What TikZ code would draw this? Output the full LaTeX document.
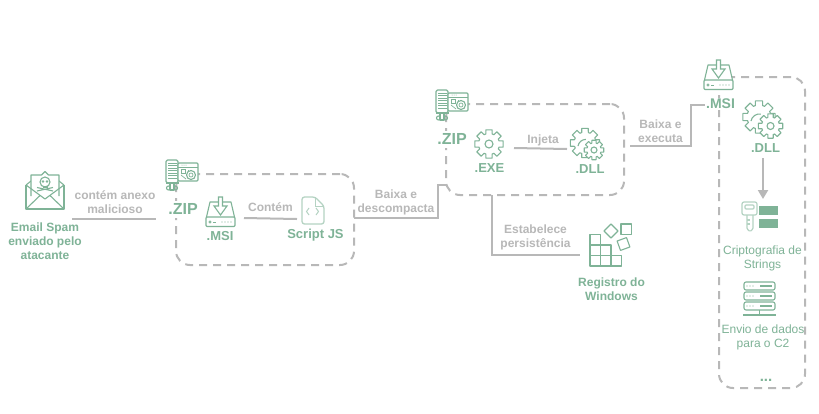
\documentclass[tikz,border=0pt]{standalone}
\usepackage{fontspec}
\setmainfont{Liberation Sans}
\usetikzlibrary{arrows.meta}
\definecolor{gr}{HTML}{7FB397}
\definecolor{grl}{HTML}{B5D3C3}
\definecolor{gy}{HTML}{B8B8B8}
\newcommand{\gearpath}[5]{% cx cy router rinner teeth
  \draw[ico,fill=white] ({#1+#3*cos(0-100/#5)},{#2+#3*sin(0-100/#5)})
  \foreach \k in {1,...,#5}{
    -- ({#1+#3*cos(\k*360/#5-360/#5+100/#5)},{#2+#3*sin(\k*360/#5-360/#5+100/#5)})
    -- ({#1+#4*cos(\k*360/#5-360/#5+140/#5)},{#2+#4*sin(\k*360/#5-360/#5+140/#5)})
    -- ({#1+#4*cos(\k*360/#5-140/#5)},{#2+#4*sin(\k*360/#5-140/#5)})
    -- ({#1+#3*cos(\k*360/#5-100/#5)},{#2+#3*sin(\k*360/#5-100/#5)})
  } -- cycle;
}
\tikzset{
  x=1pt,y=-1pt,
  ico/.style={draw=gr,line width=1.1pt,line join=round},
  icot/.style={draw=gr,line width=.7pt},
  dashbox/.style={draw=gy,line width=2pt,rounded corners=14pt,dash pattern=on 8pt off 6pt,inner sep=0pt},
  conn/.style={draw=gy,line width=2pt},
  glab/.style={text=gy,font=\fontsize{12}{14}\selectfont\bfseries,align=center,inner sep=0pt},
  tgb/.style={text=gr,font=\fontsize{12}{14}\selectfont\bfseries,align=center,inner sep=0pt},
  tgm/.style={text=gr,font=\fontsize{13}{15}\selectfont\bfseries,align=center,inner sep=0pt},
  tgr/.style={text=gr,font=\fontsize{12}{14}\selectfont,align=center,inner sep=0pt},
  tzip/.style={text=gr,font=\fontsize{16}{18}\selectfont\bfseries,inner xsep=1pt,inner ysep=3pt,fill=white},
  zipicon/.pic={
    \draw[ico,fill=white,rounded corners=1.5pt] (0,1) rectangle (12,24);
    \draw[ico,fill=white,rounded corners=1pt] (12,4) rectangle (32,22);
    \foreach \yy in {4,6.5,...,21}{\draw[icot] (2,\yy) -- (11,\yy);}
    \draw[ico] (0,24) -- (13,24);
    \draw[icot] (12,8) -- (32,8);
    \foreach \xx in {16,18,20}{\fill[gr] (\xx,6) circle (.5);}
    \draw[icot] (15,10.5) rectangle (19,14.5);
    \draw[icot] (15,16) -- (20,20);
    \draw[icot] (22,11) -- (23,11);
    \draw[ico] (25,16) circle (4.5);
    \draw[icot] (25,16) circle (2);
    \draw[ico,fill=white] (4,24) rectangle (8,31);
    \draw[ico] (2.5,29) circle (2);
    \draw[ico] (9.5,29) circle (2);
  },
  msiicon/.pic={
    \draw[ico,fill=white] (0.5,20) -- (4,5) -- (25,5) -- (28.5,20);
    \draw[ico,fill=white,rounded corners=1pt] (0,20) rectangle (29,29.5);
    \draw[ico,fill=white,line join=miter] (12.5,0) -- (16.5,0) -- (16.5,9) -- (21,9) -- (14.5,18) -- (8,9) -- (12.5,9) -- cycle;
    \draw[icot] (4,25) circle (1.2);
    \draw[icot] (7,25) -- (10,25);
    \foreach \xx in {16,19,22,25}{\fill[gr] (\xx,25) circle (.6);}
  },
}
\begin{document}
\begin{tikzpicture}
\useasboundingbox[fill=white] (0,0) rectangle (819,413);
% containers
\node[dashbox,minimum width=178pt,minimum height=91pt] (box1) at (265,219.5) {};
\node[dashbox,minimum width=178pt,minimum height=91pt] (box2) at (535,149.5) {};
\node[dashbox,minimum width=86pt,minimum height=311pt] (box3) at (762,232.5) {};
% connector ends
\coordinate (e1a) at (72,219); \coordinate (e1b) at (156,219);
\coordinate (e2a) at (244,218); \coordinate (e2b) at (297,219);
\coordinate (e3a) at (354,218); \coordinate (e3b) at (438,218); \coordinate (e3c) at (438,185); \coordinate (e3d) at (447,185);
\coordinate (e4a) at (514,148); \coordinate (e4b) at (567,149);
\coordinate (e5a) at (492,195); \coordinate (e5b) at (492,255); \coordinate (e5c) at (580,255);
\coordinate (e6a) at (630,146); \coordinate (e6b) at (691,146); \coordinate (e6c) at (691,105); \coordinate (e6d) at (708,105);
\coordinate (e7a) at (763,158); \coordinate (e7b) at (763,199);
\draw[conn] (e1a) -- (e1b);
\draw[conn] (e2a) -- (e2b);
\draw[conn] (e3a) -- (e3b) -- (e3c) -- (e3d);
\draw[conn] (e4a) -- (e4b);
\draw[conn] (e5a) -- (e5b) -- (e5c);
\draw[conn] (e6a) -- (e6b) -- (e6c) -- (e6d);
\draw[conn,-{Triangle[length=9pt,width=10pt]}] (e7a) -- (e7b);
% email icon
\begin{scope}[shift={(26,171)}]
  \draw[ico] (0,14) -- (5,10) (33,10) -- (38,14);
  \draw[ico,fill=white] (5,25) -- (5,4) -- (15.5,4) -- (19,0.5) -- (22.5,4) -- (33,4) -- (33,25);
  \draw[ico] (0,14) -- (0,38) -- (38,38) -- (38,14);
  \draw[ico] (0,14) -- (19,28) -- (38,14);
  \draw[ico] (0,38) -- (14,24.5) (38,38) -- (24,24.5);
  \draw[ico] (19,11) circle (5);
  \draw[ico] (16.5,16) -- (21.5,16);
  \fill[gr] (17,10.5) circle (1.3) (21,10.5) circle (1.3);
  \draw[ico] (11,20) -- (27,16.5) (11,16.5) -- (27,20);
\end{scope}
% zip icons
\node[tzip] (zip1) at (183,209) {.ZIP};
\pic at (166,159) {zipicon};
\node[tzip] (zip2) at (452,139) {.ZIP};
\pic at (436,89) {zipicon};
% msi icons
\pic at (206,197) {msiicon};
\pic at (704,60) {msiicon};
% script file
\draw[draw=grl,line width=1.3pt,rounded corners=2.5pt,line join=round] (302,197) -- (315,197) -- (324,206) -- (324,224) -- (302,224) -- cycle;
\draw[draw=grl,line width=1pt] (315,197) -- (315,206) -- (324,206);
\draw[draw=grl,line width=1pt] (309,208) -- (306.5,211.5) -- (309,215) (316,208) -- (318.5,211.5) -- (316,215);
% exe gear
\gearpath{489}{144}{14.5}{10.5}{8}
\draw[ico] (489,144) circle (4);
% dll gears box 2
\gearpath{585}{143}{15}{11}{8}
\draw[ico] (578,146) arc (190:270:8);
\gearpath{594}{150}{10}{7.2}{8}
\draw[ico] (594,150) circle (3);
% dll gears box 3
\gearpath{759}{117}{16.5}{12}{8}
\draw[ico] (751,121) arc (190:280:8.5);
\gearpath{770.5}{126}{12.5}{9}{8}
\draw[ico] (770.5,126) circle (3.5);
% registry icon
\begin{scope}[ico]
  \draw (590,234.5) rectangle (600.5,245) (590,245) rectangle (600.5,255.5) (600.5,245) rectangle (611,255.5);
  \draw (590,255.5) rectangle (600.5,266) (600.5,255.5) rectangle (611,266) (611,255.5) rectangle (621.5,266);
  \draw (611,224) -- (618,231) -- (611,238) -- (604,231) -- cycle;
  \draw (621,224) rectangle (631.5,234.5);
  \draw[rotate around={20:(623.5,244)}] (618.5,239) rectangle (628.5,249);
\end{scope}
% key icon
\draw[ico,draw=grl,rounded corners=2pt,line width=1.2pt] (742,202) rectangle (757,215);
\draw[ico,draw=grl,rounded corners=1pt] (745,205) rectangle (754,209);
\draw[ico,draw=grl,line width=1.2pt,rounded corners=1pt] (747,215) -- (747,229) -- (750,231.5) -- (753,229) -- (753,215);
\draw[ico,draw=grl] (747,220) -- (750,220) (747,224) -- (750,224);
\fill[gr] (759,206) rectangle (778,215);
\fill[gr] (759,218.5) rectangle (778,228);
% server icon
\foreach \yy in {282,292,302}{
  \draw[ico,rounded corners=2pt] (744,\yy) rectangle (775,\yy+8);
  \fill[gr] (747,\yy+4) circle (.7) (750,\yy+4) circle (.7) (753,\yy+4) circle (.7);
  \draw[ico] (760,\yy+4) -- (772,\yy+4);
}
\draw[ico] (759.5,310) -- (759.5,315) (743,315) -- (776,315);
% texts
\node[tgb] (email) at (45,241.5) {Email Spam\\enviado pelo\\atacante};
\node[tgm] (msi1) at (220,236) {.MSI};
\node[tgm] (js) at (315.5,235) {Script JS};
\node[tgm] (exe) at (489.5,168) {.EXE};
\node[tgm] (dll1) at (590,169) {.DLL};
\node[tgb] (reg) at (611.5,289) {Registro do\\Windows};
\node[tgm,font=\fontsize{14}{16}\selectfont\bfseries,fill=white,inner sep=1pt] (msi2) at (720.5,104) {.MSI};
\node[tgm] (dll2) at (765.5,148) {.DLL};
\node[tgr] (cript) at (762.5,258) {Criptografia de\\Strings};
\node[tgr] (envio) at (763,337) {Envio de dados\\para o C2};
\node[tgm,font=\fontsize{15}{16}\selectfont\bfseries] (more) at (766,380) {...};
\node[glab] (l1) at (115,202) {contém anexo\\malicioso};
\node[glab] (l2) at (270.5,207) {Contém};
\node[glab] (l3) at (396,202) {Baixa e\\descompacta};
\node[glab] (l4) at (543,140) {Injeta};
\node[glab] (l5) at (535.5,237) {Estabelece\\persistência};
\node[glab] (l6) at (660.5,131) {Baixa e\\executa};
\end{tikzpicture}
\end{document}
